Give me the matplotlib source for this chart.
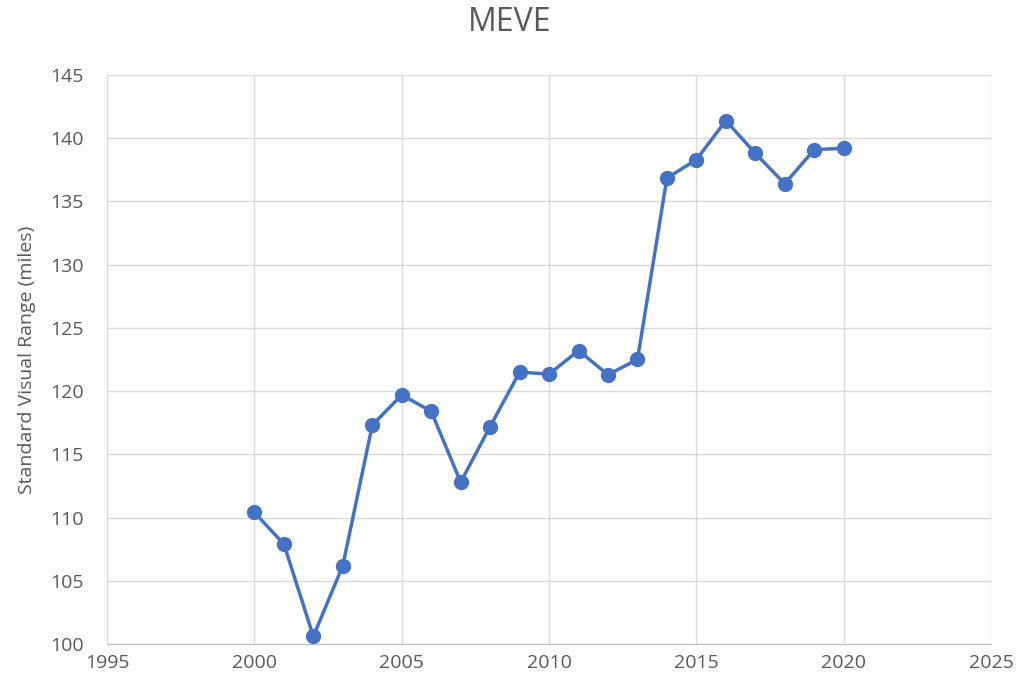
import matplotlib.pyplot as plt
import numpy as np

# datos
years = [2000, 2001, 2002, 2003, 2004, 2005, 2006, 2007, 2008, 2009, 2010,
         2011, 2012, 2013, 2014, 2015, 2016, 2017, 2018, 2019, 2020]
svr = [110.4, 107.9, 100.6, 106.2, 117.3, 119.7, 118.4, 112.8, 117.2, 121.5, 121.35,
       123.2, 121.3, 122.5, 136.85, 138.3, 141.4, 138.8, 136.4, 139.1, 139.2]

plt.rcParams['font.family'] = ['Open Sans', 'DejaVu Sans']

fig = plt.figure(figsize=(10.2, 6.92), dpi=100)
ax = fig.add_axes([0.105, 0.0694, 0.8666, 0.8222])

ax.plot(years, svr, color='#4472C4', lw=2.5, marker='o', ms=10, zorder=3)

ax.set_xlim(1995, 2025)
ax.set_ylim(100, 145)
ax.set_xticks(np.arange(1995, 2026, 5))
ax.set_yticks(np.arange(100, 146, 5))
ax.grid(color='#D9D9D9', lw=1)
ax.set_axisbelow(True)
for s in ['top', 'right', 'left']:
    ax.spines[s].set_visible(False)
ax.spines['bottom'].set_color('#BFBFBF')
ax.tick_params(length=0, labelsize=14, colors='#595959')
ax.tick_params(axis='y', pad=17)
ax.tick_params(axis='x', pad=7)

ax.set_ylabel('Standard Visual Range (miles)', fontsize=14, color='#595959', labelpad=10)
fig.text(0.5, 0.967, 'MEVE', ha='center', va='center', fontsize=23, color='#595959')

plt.savefig('out.png', dpi=100)
